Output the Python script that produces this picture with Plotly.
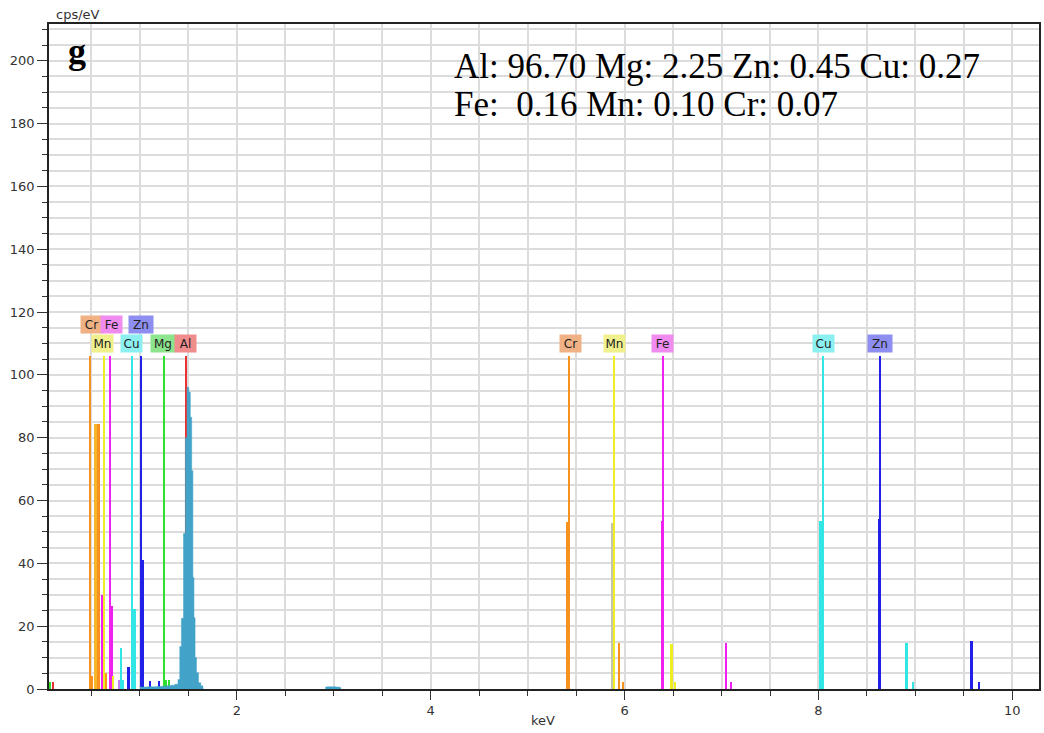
import plotly.graph_objects as go

# ---------------- data ----------------
# element marker lines (tall, labelled)
marker_keV = [0.488, 0.633, 0.697, 0.921, 1.014, 1.245, 1.479, 5.425, 5.897, 6.401, 8.051, 8.637]
marker_elem = ["Cr", "Mn", "Fe", "Cu", "Zn", "Mg", "Al", "Cr", "Mn", "Fe", "Cu", "Zn"]
marker_height = [106] * 12

# element family lines (keV, cps/eV, colour key)
line_keV = [0.071, 0.100, 0.504, 0.540, 0.576, 0.612, 0.648, 0.710, 0.725, 0.782, 0.803, 0.824,
            0.882, 0.890, 0.947, 1.026, 1.104, 1.194, 1.270, 1.300, 1.557,
            5.415, 5.879, 5.940, 5.982, 6.393, 6.483, 6.522, 7.049, 7.101,
            8.033, 8.626, 8.909, 8.973, 9.578, 9.653]
line_cps = [2.3, 2.3, 4.0, 84.5, 84.5, 30.0, 5.0, 26.5, 4.0, 3.0, 13.0, 3.0,
            7.0, 2.5, 25.6, 41.0, 2.5, 2.5, 3.0, 3.0, 5.0,
            53.3, 52.8, 14.5, 2.3, 53.6, 14.2, 2.3, 14.5, 2.3,
            53.6, 54.0, 14.8, 2.2, 15.3, 2.2]
line_elem = ["Mg", "Al", "Cr", "CrMn", "Cr", "Fe", "Cr", "Fe", "Mn", "FeL", "Cu", "Cu",
             "Zn", "Zn", "Cu", "Zn", "Zn", "Zn", "Mg", "Mg", "Al",
             "Cr", "MnK", "Cr", "Cr", "Fe", "Mn", "Mn", "Fe", "Fe",
             "Cu", "Zn", "Cu", "Cu", "Zn", "Zn"]

# measured spectrum (Al K peak region and a small bump near 3 keV)
spec_keV = [1.00, 1.05, 1.10, 1.15, 1.20, 1.25, 1.30, 1.34, 1.38, 1.405, 1.417, 1.439, 1.460,
            1.477, 1.496, 1.513, 1.527, 1.541, 1.552, 1.563, 1.575, 1.592, 1.616, 1.640, 1.660]
spec_cps = [0.6, 0.6, 0.7, 0.7, 0.8, 0.9, 1.0, 1.2, 1.5, 3.0, 13.5, 22.5, 49.5,
            80.0, 96.0, 94.5, 86.5, 69.5, 35.5, 22.7, 10.0, 5.2, 2.0, 1.0, 0.0]
bump_keV = [2.913, 2.950, 3.000, 3.040, 3.075]
bump_cps = [0.6, 0.7, 0.7, 0.6, 0.5]

# labels
label_text = ["Cr", "Fe", "Zn", "Mn", "Cu", "Mg", "Al", "Cr", "Mn", "Fe", "Cu", "Zn"]
label_keV = [0.496, 0.708, 1.012, 0.609, 0.908, 1.243, 1.475, 5.443, 5.897, 6.396, 8.051, 8.638]
label_row = [2, 2, 2, 1, 1, 1, 1, 1, 1, 1, 1, 1]

composition_line1 = "Al: 96.70 Mg: 2.25 Zn: 0.45 Cu: 0.27"
composition_line2 = "Fe:  0.16 Mn: 0.10 Cr: 0.07"

x_ticks = [2, 4, 6, 8, 10]
y_ticks = [0, 20, 40, 60, 80, 100, 120, 140, 160, 180, 200]

# ---------------- style ----------------
line_colors = {"Cr": "#f7921e", "Mn": "#eeee22", "Fe": "#f020f0", "Cu": "#33e6e6",
               "Zn": "#2020e8", "Mg": "#30e030", "Al": "#e63232", "MnK": "#c8c4a8",
               "CrMn": "#f7b52a", "FeL": "#c07ef0"}
label_bg = {"Cr": "#f0b284", "Fe": "#f08cf0", "Zn": "#8e8ef0", "Mn": "#f0f08c",
            "Cu": "#8cf0f0", "Mg": "#8ce48c", "Al": "#f08c8c"}
spec_color = "#42a2c8"
grid_color = "#dcdcdc"

PL, PT, PR, PB = 49, 24, 1041, 689


def px(xp):
    return (xp - PL) / (PR - PL)


def py(yp):
    return (PB - yp) / (PB - PT)


fig = go.Figure()

# family lines
fig.add_trace(go.Bar(
    x=line_keV, y=line_cps,
    width=[0.055 if (e == "Cu" and c > 50) else (0.032 if c > 20 else 0.024)
           for e, c in zip(line_elem, line_cps)],
    marker=dict(color=[line_colors[e] for e in line_elem], line_width=0),
    hoverinfo="skip", showlegend=False))

# spectrum
fig.add_trace(go.Scatter(x=spec_keV, y=spec_cps, mode="lines", line=dict(shape="hvh", width=0.5, color=spec_color),
                         fill="tozeroy", fillcolor=spec_color, hoverinfo="skip", showlegend=False))
fig.add_trace(go.Scatter(x=bump_keV, y=bump_cps, mode="lines", line=dict(shape="hvh", width=0.5, color=spec_color),
                         fill="tozeroy", fillcolor=spec_color, hoverinfo="skip", showlegend=False))

# tall marker lines
fig.add_trace(go.Bar(
    x=marker_keV, y=marker_height, width=[0.013] * len(marker_keV),
    marker=dict(color=[line_colors[e] for e in marker_elem], line_width=0),
    hoverinfo="skip", showlegend=False))

annotations = []
for t, k, r in zip(label_text, label_keV, label_row):
    annotations.append(dict(
        x=k, y=109.9 if r == 1 else 116.0, xref="x", yref="y", text=t, showarrow=False,
        font=dict(family="DejaVu Sans", size=12, color="#222"),
        bgcolor=label_bg[t], borderpad=1, width=22 if t in ("Zn", "Mg") else 19, height=15,
        xanchor="center", yanchor="middle"))

annotations.append(dict(x=px(453), y=py(67), xref="paper", yref="paper", text=composition_line1,
                        showarrow=False, xanchor="left", yanchor="middle",
                        font=dict(family="Liberation Serif", size=35, color="#000")))
annotations.append(dict(x=px(453), y=py(105), xref="paper", yref="paper", text=composition_line2,
                        showarrow=False, xanchor="left", yanchor="middle",
                        font=dict(family="Liberation Serif", size=35, color="#000")))
annotations.append(dict(x=px(77), y=py(51), xref="paper", yref="paper", text="<b>g</b>",
                        showarrow=False, xanchor="center", yanchor="middle",
                        font=dict(family="Liberation Serif", size=36, color="#000")))
annotations.append(dict(x=px(78), y=py(15), xref="paper", yref="paper", text="cps/eV",
                        showarrow=False, xanchor="center", yanchor="middle",
                        font=dict(family="DejaVu Sans", size=13, color="#333")))
annotations.append(dict(x=px(544), y=py(720), xref="paper", yref="paper", text="keV",
                        showarrow=False, xanchor="center", yanchor="middle",
                        font=dict(family="DejaVu Sans", size=13, color="#333")))

fig.update_layout(
    width=1044, height=733,
    margin=dict(l=PL, r=1044 - PR, t=PT, b=733 - PB),
    paper_bgcolor="white", plot_bgcolor="white",
    barmode="overlay", bargap=0,
    annotations=annotations,
    font=dict(family="DejaVu Sans", size=13, color="#333"),
    xaxis=dict(range=[0.062, 10.275], tickmode="array", tickvals=x_ticks, ticktext=[str(v) for v in x_ticks],
               ticks="outside", ticklen=9, tickwidth=1, tickcolor="#333",
               showline=True, linecolor="#222", linewidth=1.5, mirror=True,
               showgrid=True, gridcolor=grid_color, gridwidth=1.5, zeroline=False,
               minor=dict(dtick=0.5, tick0=0, ticks="outside", ticklen=5, tickcolor="#333",
                          showgrid=True, gridcolor=grid_color, gridwidth=1.5)),
    yaxis=dict(range=[0, 211.7], tickmode="array", tickvals=y_ticks, ticktext=[str(v) for v in y_ticks],
               ticks="outside", ticklen=10, tickwidth=1, tickcolor="#333",
               showline=True, linecolor="#222", linewidth=1.5, mirror=True,
               showgrid=True, gridcolor=grid_color, gridwidth=1.5, zeroline=False,
               minor=dict(dtick=5, tick0=0, ticks="outside", ticklen=5, tickcolor="#333",
                          showgrid=True, gridcolor=grid_color, gridwidth=1.5)),
)

fig.write_html("out.html", config={"displayModeBar": False},
               post_script="document.body.style.margin='0';document.body.style.overflow='hidden';")
